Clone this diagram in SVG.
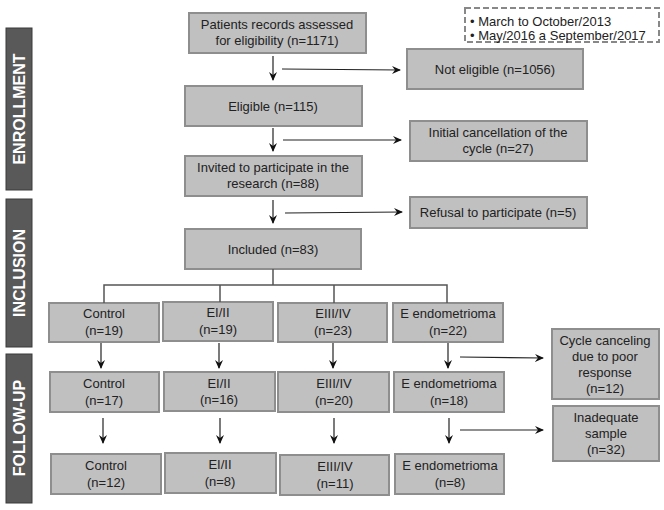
<svg xmlns="http://www.w3.org/2000/svg" width="664" height="510" viewBox="0 0 664 510">
<style>
.box{fill:#c0c0c0;stroke:#8e8e8e;stroke-width:2}
.t{font-family:"Liberation Sans",Arial,sans-serif;font-size:13px;fill:#222;text-anchor:middle}
.side{fill:#595959;stroke:#3a3a3a;stroke-width:1}
.st{font-family:"Liberation Sans",Arial,sans-serif;font-size:16px;font-weight:bold;fill:#fff;text-anchor:middle}
.ln{fill:none;stroke:#222;stroke-width:1.2}
.tr{fill:none;stroke:#555;stroke-width:1.5}
</style>
<defs>
<marker id="ah" markerWidth="10" markerHeight="10" refX="8" refY="5" orient="auto" markerUnits="userSpaceOnUse">
<path d="M0,1 L9,5 L0,9 L3,5 Z" fill="#111"/>
</marker>
</defs>
<rect x="0" y="0" width="664" height="510" fill="#fff"/>

<g id="side-enrollment"><rect class="side" x="6" y="28" width="26" height="162"/><text class="st" transform="translate(25,109) rotate(-90)">ENROLLMENT</text></g>
<g id="side-inclusion"><rect class="side" x="6" y="199" width="26" height="148"/><text class="st" transform="translate(25,273) rotate(-90)">INCLUSION</text></g>
<g id="side-followup"><rect class="side" x="6" y="354" width="26" height="149"/><text class="st" transform="translate(25,428) rotate(-90)">FOLLOW-UP</text></g>

<g id="legend"><rect x="465" y="8" width="194" height="34" fill="#fff" stroke="#888" stroke-width="2" stroke-dasharray="6,3"/>
<text font-family="Liberation Sans,Arial,sans-serif" font-size="13" fill="#222" x="470" y="26">• March to October/2013</text>
<text font-family="Liberation Sans,Arial,sans-serif" font-size="13" fill="#222" x="470" y="40">• May/2016 a September/2017</text></g>

<g id="n-patients"><rect class="box" x="189" y="13" width="177" height="40"/><text class="t" x="277" y="29">Patients records assessed</text><text class="t" x="277" y="45">for eligibility (n=1171)</text></g>
<g id="n-noteligible"><rect class="box" x="407" y="49" width="176" height="40"/><text class="t" x="495" y="74">Not eligible (n=1056)</text></g>
<g id="n-eligible"><rect class="box" x="185" y="86" width="177" height="40"/><text class="t" x="273" y="111">Eligible (n=115)</text></g>
<g id="n-initialcancel"><rect class="box" x="410" y="121" width="177" height="40"/><text class="t" x="498" y="137">Initial cancellation of the</text><text class="t" x="498" y="153">cycle (n=27)</text></g>
<g id="n-invited"><rect class="box" x="185" y="156" width="177" height="40"/><text class="t" x="273" y="172">Invited to participate in the</text><text class="t" x="273" y="188">research (n=88)</text></g>
<g id="n-refusal"><rect class="box" x="410" y="197" width="177" height="31"/><text class="t" x="498" y="217">Refusal to participate (n=5)</text></g>
<g id="n-included"><rect class="box" x="185" y="229" width="176" height="40"/><text class="t" x="273" y="254">Included (n=83)</text></g>

<g id="n-control1"><rect class="box" x="49" y="303" width="110" height="39"/><text class="t" x="104" y="318">Control</text><text class="t" x="104" y="335">(n=19)</text></g>
<g id="n-ei1"><rect class="box" x="163" y="302" width="110" height="39"/><text class="t" x="218" y="317">EI/II</text><text class="t" x="218" y="334">(n=19)</text></g>
<g id="n-eiii1"><rect class="box" x="278" y="303" width="109" height="39"/><text class="t" x="333" y="318">EIII/IV</text><text class="t" x="333" y="335">(n=23)</text></g>
<g id="n-endo1"><rect class="box" x="393" y="303" width="110" height="39"/><text class="t" x="448" y="318">E endometrioma</text><text class="t" x="448" y="335">(n=22)</text></g>

<g id="n-control2"><rect class="box" x="50" y="372" width="109" height="40"/><text class="t" x="104" y="388">Control</text><text class="t" x="104" y="405">(n=17)</text></g>
<g id="n-ei2"><rect class="box" x="164" y="372" width="111" height="39"/><text class="t" x="219" y="388">EI/II</text><text class="t" x="219" y="404">(n=16)</text></g>
<g id="n-eiii2"><rect class="box" x="278" y="372" width="111" height="40"/><text class="t" x="334" y="388">EIII/IV</text><text class="t" x="334" y="405">(n=20)</text></g>
<g id="n-endo2"><rect class="box" x="394" y="372" width="110" height="40"/><text class="t" x="449" y="388">E endometrioma</text><text class="t" x="449" y="405">(n=18)</text></g>

<g id="n-control3"><rect class="box" x="51" y="454" width="110" height="40"/><text class="t" x="106" y="470">Control</text><text class="t" x="106" y="487">(n=12)</text></g>
<g id="n-ei3"><rect class="box" x="165" y="453" width="111" height="40"/><text class="t" x="220" y="469">EI/II</text><text class="t" x="220" y="486">(n=8)</text></g>
<g id="n-eiii3"><rect class="box" x="280" y="455" width="109" height="40"/><text class="t" x="335" y="471">EIII/IV</text><text class="t" x="335" y="488">(n=11)</text></g>
<g id="n-endo3"><rect class="box" x="395" y="454" width="109" height="40"/><text class="t" x="450" y="470">E endometrioma</text><text class="t" x="450" y="487">(n=8)</text></g>

<g id="n-cyclecancel"><rect class="box" x="552" y="329" width="107" height="70"/><text class="t" x="605" y="345">Cycle canceling</text><text class="t" x="605" y="361">due to poor</text><text class="t" x="605" y="377">response</text><text class="t" x="605" y="393">(n=12)</text></g>
<g id="n-inadequate"><rect class="box" x="553" y="406" width="106" height="55"/><text class="t" x="606" y="422">Inadequate</text><text class="t" x="606" y="438">sample</text><text class="t" x="606" y="454">(n=32)</text></g>

<g id="connectors">
<line class="ln" x1="273" y1="56" x2="273" y2="80" marker-end="url(#ah)"/>
<line class="ln" x1="282" y1="69" x2="400" y2="70" marker-end="url(#ah)"/>
<line class="ln" x1="273" y1="128" x2="273" y2="151" marker-end="url(#ah)"/>
<line class="ln" x1="283" y1="140" x2="401" y2="140" marker-end="url(#ah)"/>
<line class="ln" x1="273" y1="200" x2="273" y2="223" marker-end="url(#ah)"/>
<line class="ln" x1="285" y1="213" x2="402" y2="212" marker-end="url(#ah)"/>
<polyline class="tr" points="273,269 273,285"/>
<polyline class="tr" points="104,303 104,285 447,285 447,303"/>
<line class="tr" x1="220" y1="285" x2="220" y2="302"/>
<line class="tr" x1="334" y1="285" x2="334" y2="303"/>
<line class="ln" x1="101" y1="343" x2="101" y2="368" marker-end="url(#ah)"/>
<line class="ln" x1="219" y1="343" x2="219" y2="368" marker-end="url(#ah)"/>
<line class="ln" x1="333" y1="343" x2="333" y2="368" marker-end="url(#ah)"/>
<line class="ln" x1="448" y1="343" x2="448" y2="368" marker-end="url(#ah)"/>
<line class="ln" x1="103" y1="418" x2="103" y2="443" marker-end="url(#ah)"/>
<line class="ln" x1="220" y1="418" x2="220" y2="443" marker-end="url(#ah)"/>
<line class="ln" x1="334" y1="418" x2="334" y2="443" marker-end="url(#ah)"/>
<line class="ln" x1="449" y1="418" x2="449" y2="443" marker-end="url(#ah)"/>
<line class="ln" x1="460" y1="357" x2="543" y2="358" marker-end="url(#ah)"/>
<line class="ln" x1="460" y1="430" x2="543" y2="430" marker-end="url(#ah)"/>
</g>
</svg>
